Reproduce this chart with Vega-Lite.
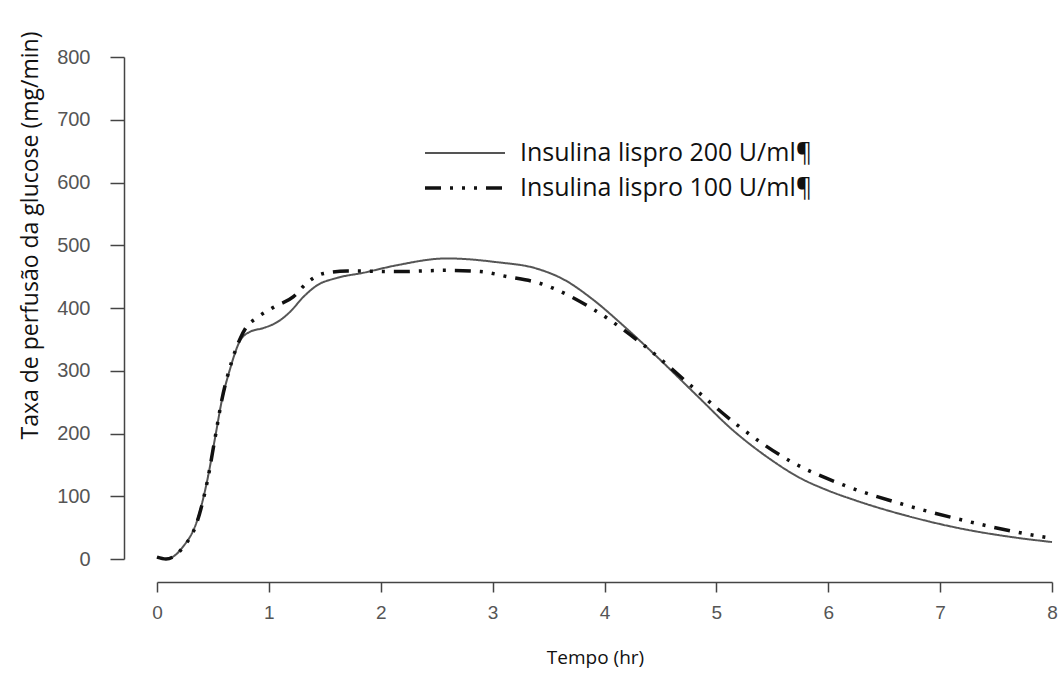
{
  "$schema": "https://vega.github.io/schema/vega-lite/v6.json",
  "width": 895,
  "height": 502,
  "autosize": {"type": "none"},
  "padding": {"left": 157, "top": 57, "right": 6, "bottom": 119},
  "background": "white",
  "config": {"view": {"stroke": null}},
  "data": {"values": [
    {"t": 0.0, "v": 3, "s": "Insulina lispro 200 U/ml¶"},
    {"t": 0.08, "v": 0, "s": "Insulina lispro 200 U/ml¶"},
    {"t": 0.23, "v": 19, "s": "Insulina lispro 200 U/ml¶"},
    {"t": 0.36, "v": 62, "s": "Insulina lispro 200 U/ml¶"},
    {"t": 0.45, "v": 126, "s": "Insulina lispro 200 U/ml¶"},
    {"t": 0.52, "v": 194, "s": "Insulina lispro 200 U/ml¶"},
    {"t": 0.58, "v": 253, "s": "Insulina lispro 200 U/ml¶"},
    {"t": 0.65, "v": 301, "s": "Insulina lispro 200 U/ml¶"},
    {"t": 0.74, "v": 347, "s": "Insulina lispro 200 U/ml¶"},
    {"t": 0.83, "v": 362, "s": "Insulina lispro 200 U/ml¶"},
    {"t": 0.95, "v": 368, "s": "Insulina lispro 200 U/ml¶"},
    {"t": 1.07, "v": 377, "s": "Insulina lispro 200 U/ml¶"},
    {"t": 1.19, "v": 394, "s": "Insulina lispro 200 U/ml¶"},
    {"t": 1.31, "v": 418, "s": "Insulina lispro 200 U/ml¶"},
    {"t": 1.43, "v": 436, "s": "Insulina lispro 200 U/ml¶"},
    {"t": 1.61, "v": 448, "s": "Insulina lispro 200 U/ml¶"},
    {"t": 1.84, "v": 456, "s": "Insulina lispro 200 U/ml¶"},
    {"t": 2.14, "v": 468, "s": "Insulina lispro 200 U/ml¶"},
    {"t": 2.59, "v": 479, "s": "Insulina lispro 200 U/ml¶"},
    {"t": 3.04, "v": 473, "s": "Insulina lispro 200 U/ml¶"},
    {"t": 3.39, "v": 463, "s": "Insulina lispro 200 U/ml¶"},
    {"t": 3.64, "v": 445, "s": "Insulina lispro 200 U/ml¶"},
    {"t": 3.9, "v": 413, "s": "Insulina lispro 200 U/ml¶"},
    {"t": 4.18, "v": 370, "s": "Insulina lispro 200 U/ml¶"},
    {"t": 4.5, "v": 317, "s": "Insulina lispro 200 U/ml¶"},
    {"t": 4.84, "v": 258, "s": "Insulina lispro 200 U/ml¶"},
    {"t": 5.13, "v": 208, "s": "Insulina lispro 200 U/ml¶"},
    {"t": 5.45, "v": 163, "s": "Insulina lispro 200 U/ml¶"},
    {"t": 5.76, "v": 128, "s": "Insulina lispro 200 U/ml¶"},
    {"t": 6.0, "v": 109, "s": "Insulina lispro 200 U/ml¶"},
    {"t": 6.25, "v": 93, "s": "Insulina lispro 200 U/ml¶"},
    {"t": 6.72, "v": 68, "s": "Insulina lispro 200 U/ml¶"},
    {"t": 7.2, "v": 48, "s": "Insulina lispro 200 U/ml¶"},
    {"t": 7.68, "v": 34, "s": "Insulina lispro 200 U/ml¶"},
    {"t": 8.0, "v": 27, "s": "Insulina lispro 200 U/ml¶"},
    {"t": 0.0, "v": 3, "s": "Insulina lispro 100 U/ml¶"},
    {"t": 0.08, "v": 0, "s": "Insulina lispro 100 U/ml¶"},
    {"t": 0.23, "v": 18, "s": "Insulina lispro 100 U/ml¶"},
    {"t": 0.36, "v": 60, "s": "Insulina lispro 100 U/ml¶"},
    {"t": 0.45, "v": 124, "s": "Insulina lispro 100 U/ml¶"},
    {"t": 0.52, "v": 194, "s": "Insulina lispro 100 U/ml¶"},
    {"t": 0.58, "v": 254, "s": "Insulina lispro 100 U/ml¶"},
    {"t": 0.65, "v": 304, "s": "Insulina lispro 100 U/ml¶"},
    {"t": 0.74, "v": 350, "s": "Insulina lispro 100 U/ml¶"},
    {"t": 0.8, "v": 370, "s": "Insulina lispro 100 U/ml¶"},
    {"t": 0.89, "v": 384, "s": "Insulina lispro 100 U/ml¶"},
    {"t": 1.04, "v": 401, "s": "Insulina lispro 100 U/ml¶"},
    {"t": 1.22, "v": 418, "s": "Insulina lispro 100 U/ml¶"},
    {"t": 1.34, "v": 440, "s": "Insulina lispro 100 U/ml¶"},
    {"t": 1.49, "v": 455, "s": "Insulina lispro 100 U/ml¶"},
    {"t": 1.7, "v": 459, "s": "Insulina lispro 100 U/ml¶"},
    {"t": 2.14, "v": 458, "s": "Insulina lispro 100 U/ml¶"},
    {"t": 2.59, "v": 460, "s": "Insulina lispro 100 U/ml¶"},
    {"t": 2.89, "v": 458, "s": "Insulina lispro 100 U/ml¶"},
    {"t": 3.13, "v": 450, "s": "Insulina lispro 100 U/ml¶"},
    {"t": 3.41, "v": 440, "s": "Insulina lispro 100 U/ml¶"},
    {"t": 3.9, "v": 398, "s": "Insulina lispro 100 U/ml¶"},
    {"t": 4.37, "v": 338, "s": "Insulina lispro 100 U/ml¶"},
    {"t": 4.78, "v": 275, "s": "Insulina lispro 100 U/ml¶"},
    {"t": 5.19, "v": 213, "s": "Insulina lispro 100 U/ml¶"},
    {"t": 5.67, "v": 155, "s": "Insulina lispro 100 U/ml¶"},
    {"t": 6.15, "v": 117, "s": "Insulina lispro 100 U/ml¶"},
    {"t": 6.69, "v": 86, "s": "Insulina lispro 100 U/ml¶"},
    {"t": 7.27, "v": 59, "s": "Insulina lispro 100 U/ml¶"},
    {"t": 7.8, "v": 39, "s": "Insulina lispro 100 U/ml¶"},
    {"t": 8.0, "v": 33, "s": "Insulina lispro 100 U/ml¶"}
  ]},
  "mark": {"type": "line", "interpolate": "monotone", "clip": false},
  "encoding": {
    "x": {
      "field": "t", "type": "quantitative",
      "scale": {"domain": [0, 8], "nice": false, "zero": false},
      "axis": {
        "values": [0, 1, 2, 3, 4, 5, 6, 7, 8],
        "title": "Tempo (hr)",
        "offset": 23, "grid": false,
        "domainColor": "#444", "domainWidth": 1.5,
        "tickColor": "#444", "tickSize": 10, "tickWidth": 1.5,
        "labelFont": "Liberation Sans", "labelFontSize": 19, "labelColor": "#555",
        "labelPadding": 11, "labelFlush": false, "labelBound": false,
        "titleFont": "Open Sans", "titleFontSize": 19, "titleFontWeight": "normal", "titleColor": "#111",
        "titleX": 438, "titleAlign": "center",
        "titlePadding": 26
      }
    },
    "y": {
      "field": "v", "type": "quantitative",
      "scale": {"domain": [0, 800], "nice": false},
      "axis": {
        "values": [0, 100, 200, 300, 400, 500, 600, 700, 800],
        "title": "Taxa de perfusão da glucose (mg/min)",
        "offset": 33, "grid": false,
        "domainColor": "#444", "domainWidth": 1.5,
        "tickColor": "#444", "tickSize": 14, "tickWidth": 1.5,
        "labelFont": "Liberation Sans", "labelFontSize": 20, "labelColor": "#555",
        "labelPadding": 20, "labelFlush": false,
        "titleFont": "Open Sans", "titleFontSize": 23, "titleFontWeight": "normal", "titleColor": "#111",
        "titleY": 178, "titleAlign": "center",
        "titlePadding": 14
      }
    },
    "strokeDash": {
      "field": "s", "type": "nominal",
      "scale": {
        "domain": ["Insulina lispro 200 U/ml¶", "Insulina lispro 100 U/ml¶"],
        "range": [[1, 0], [16, 9, 3, 9, 3, 9, 3, 9]]
      },
      "legend": {
        "title": null, "orient": "none", "legendX": 286, "legendY": 75,
        "symbolType": "M-2,0H2", "symbolSize": 1600,
        "symbolFillColor": "transparent",
        "labelFont": "Open Sans", "labelFontSize": 25, "labelColor": "#111",
        "labelOffset": 33, "rowPadding": 0, "labelLimit": 0
      }
    },
    "color": {
      "field": "s", "type": "nominal",
      "scale": {
        "domain": ["Insulina lispro 200 U/ml¶", "Insulina lispro 100 U/ml¶"],
        "range": ["#555555", "#111111"]
      }
    },
    "strokeWidth": {
      "field": "s", "type": "nominal",
      "scale": {
        "domain": ["Insulina lispro 200 U/ml¶", "Insulina lispro 100 U/ml¶"],
        "range": [2, 3.5]
      }
    }
  }
}
